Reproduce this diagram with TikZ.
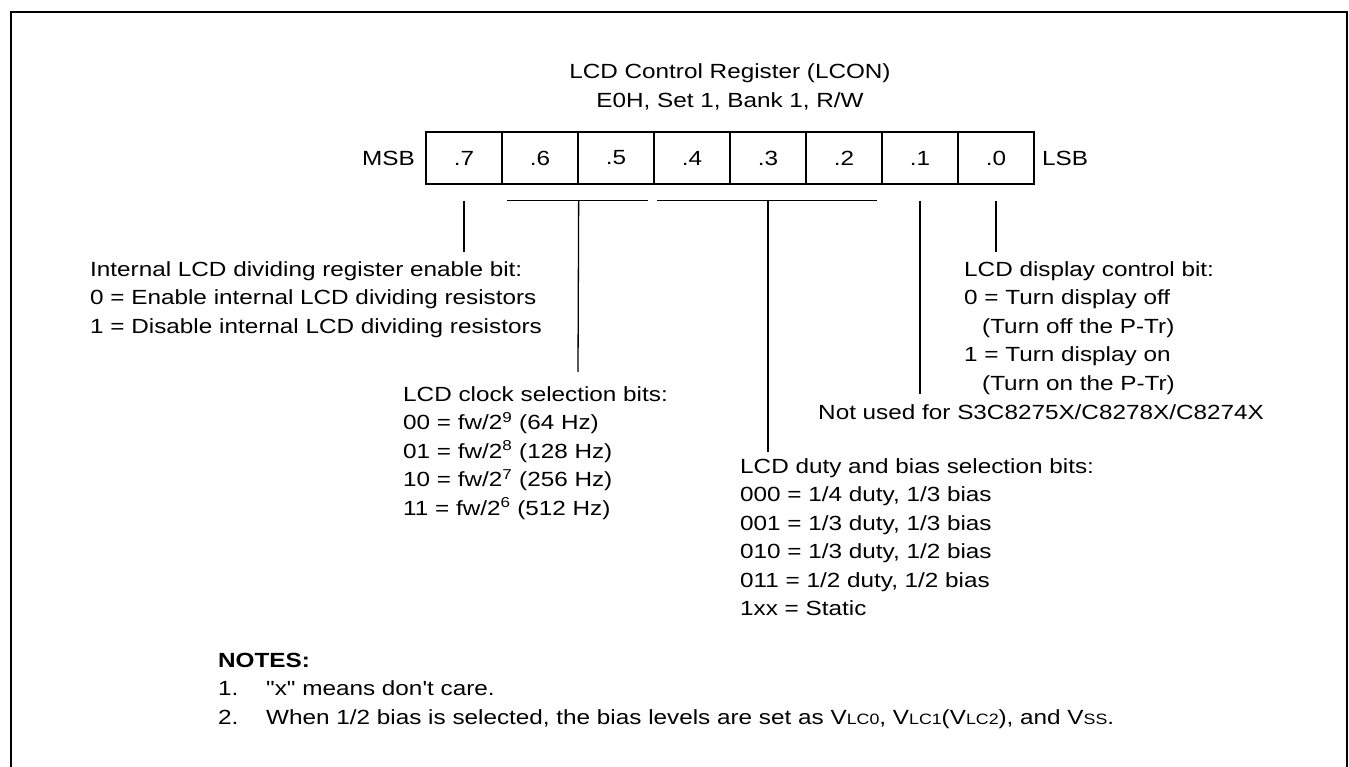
\documentclass[tikz,border=0pt]{standalone}
\usepackage{fontspec}
\newfontfamily\arial{Liberation Sans}[FakeStretch=1.185]
\newcommand\smallv[1]{{\fontsize{15}{15}\selectfont #1}}
\begin{document}
\begin{tikzpicture}[x=1pt,y=-1pt,
  base/.style={font=\arial\fontsize{20.5}{28.5}\selectfont},
  txt/.style={base,inner sep=0,anchor=base west,align=left},
  cell/.style={base,draw,line width=1.3pt,minimum width=76pt,minimum height=52pt,inner sep=0},
  conn/.style={line width=1.3pt}]
\useasboundingbox (0,0) rectangle (1349,767);
\draw[line width=2pt] (11,767) -- (11,12) -- (1347,12) -- (1347,767);

% multi-line nodes: base anchor = baseline of the last line
\node[base,inner sep=0,anchor=base,align=center] (title) at (730,107.3)
  {LCD Control Register (LCON)\\E0H, Set 1, Bank 1, R/W};

\node[cell] (c7) at (464,158) {.7};
\node[cell] (c6) at (540,158) {.6};
\node[cell] (c5) at (616,158) {.5};
\node[cell] (c4) at (692,158) {.4};
\node[cell] (c3) at (768,158) {.3};
\node[cell] (c2) at (844,158) {.2};
\node[cell] (c1) at (920,158) {.1};
\node[cell] (c0) at (996,158) {.0};
\node[txt,anchor=base east] (msb) at (415,165.3) {MSB};
\node[txt] (lsb) at (1042,165.3) {LSB};

\node[txt] (blkA) at (90,333.3) {Internal LCD dividing register enable bit:\\0 = Enable internal LCD dividing resistors\\1 = Disable internal LCD dividing resistors};
\node[txt] (blkD) at (964,390.3) {LCD display control bit:\\0 = Turn display off\\\hspace*{18pt}(Turn off the P-Tr)\\1 = Turn display on\\\hspace*{18pt}(Turn on the P-Tr)};
\node[txt] (blkN) at (818,419.3) {Not used for S3C8275X/C8278X/C8274X};
\node[txt] (blkB) at (403,515.3) {LCD clock selection bits:\\00 = fw/2\textsuperscript{9} (64 Hz)\\01 = fw/2\textsuperscript{8} (128 Hz)\\10 = fw/2\textsuperscript{7} (256 Hz)\\11 = fw/2\textsuperscript{6} (512 Hz)};
\node[txt] (blkC) at (740,615.8) {LCD duty and bias selection bits:\\000 = 1/4 duty, 1/3 bias\\001 = 1/3 duty, 1/3 bias\\010 = 1/3 duty, 1/2 bias\\011 = 1/2 duty, 1/2 bias\\1xx = Static};
\node[txt] (notes) at (218,724.3) {\textbf{NOTES:}\\\makebox[48pt][l]{1.}"x" means don't care.\\\makebox[48pt][l]{2.}When 1/2 bias is selected, the bias levels are set as V\smallv{LC0}, V\smallv{LC1}(V\smallv{LC2}), and V\smallv{SS}.};

% connectors
\coordinate (e7) at (464,252);
\draw[conn] ([yshift=-16pt]c7.south) -- (e7);
\draw[conn] ([xshift=6pt,yshift=-16pt]c6.south west) -- ([xshift=-7pt,yshift=-16pt]c5.south east);
\coordinate (e65) at (578,372);
\draw[conn] ([yshift=-16pt]c6.south east) -- (e65);
\draw[conn] ([xshift=4pt,yshift=-16pt]c4.south west) -- ([xshift=-6pt,yshift=-16pt]c2.south east);
\coordinate (e42) at (768,452);
\draw[conn] ([yshift=-16pt]c3.south) -- (e42);
\coordinate (e1) at (920,394);
\draw[conn] ([yshift=-16pt]c1.south) -- (e1);
\coordinate (e0) at (996,252);
\draw[conn] ([yshift=-16pt]c0.south) -- (e0);
\end{tikzpicture}
\end{document}
